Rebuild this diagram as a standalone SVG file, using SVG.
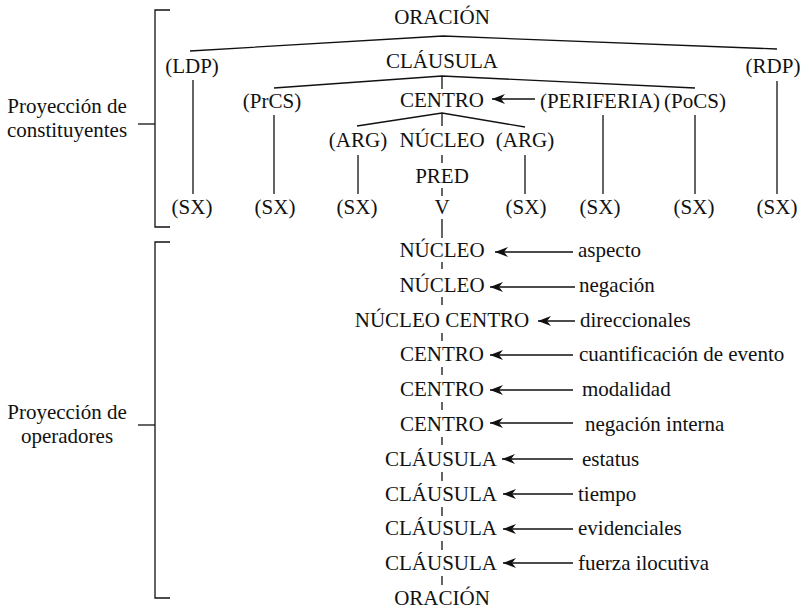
<svg xmlns="http://www.w3.org/2000/svg" width="809" height="610" viewBox="0 0 809 610">
<style>
text{font-family:'Liberation Serif',serif;font-size:21px;fill:#111}
.c{text-anchor:middle}
.l{text-anchor:start}
line,polyline{stroke:#111;stroke-width:1.3;fill:none}
.arr{marker-start:url(#ah)}
</style>
<defs>
<marker id="ah" markerUnits="userSpaceOnUse" markerWidth="16" markerHeight="12" refX="0" refY="0" viewBox="-1 -6 16 12" orient="auto" overflow="visible">
<path d="M0,0 L13,-5 L9,0 L13,5 Z" fill="#111"/>
</marker>
</defs>
<rect width="809" height="610" fill="#fff"/>

<g id="brackets">
<polyline points="170,10 155,10 155,227 170,227"/>
<line x1="138" y1="124" x2="155" y2="124"/>
<polyline points="170,242 155,242 155,598 170,598"/>
<line x1="138" y1="425" x2="155" y2="425"/>
</g>
<g id="label-constituyentes"><text class="c" x="67" y="113">Proyección de</text><text class="c" x="67" y="137">constituyentes</text></g>
<g id="label-operadores"><text class="c" x="67" y="419">Proyección de</text><text class="c" x="67" y="443">operadores</text></g>

<g id="connectors">
<polyline points="190,51 443,36 777,49"/>
<polyline points="274,88 442,76 695,88"/>
<line x1="442" y1="76" x2="442" y2="89"/>
<line x1="193" y1="80" x2="193" y2="194"/>
<line x1="777" y1="81" x2="777" y2="194"/>
<line x1="274" y1="115" x2="274" y2="194"/>
<line x1="603" y1="115" x2="603" y2="194"/>
<line x1="695" y1="115" x2="695" y2="194"/>
<line class="arr" x1="492" y1="99" x2="535" y2="99"/>
<polyline points="357,126 442,113 525,127"/>
<line x1="442" y1="113" x2="442" y2="126"/>
<line x1="358" y1="155" x2="358" y2="194"/>
<line x1="525" y1="155" x2="525" y2="194"/>
<line x1="442" y1="155" x2="442" y2="163"/>
<line x1="442" y1="188" x2="442" y2="196"/>
<line x1="442" y1="219" x2="442" y2="238"/>
<line x1="442" y1="262" x2="442" y2="269"/>
<line x1="442" y1="297" x2="442" y2="305"/>
<line x1="442" y1="333" x2="442" y2="341"/>
<line x1="442" y1="367" x2="442" y2="375"/>
<line x1="442" y1="402" x2="442" y2="410"/>
<line x1="442" y1="437" x2="442" y2="445"/>
<line x1="442" y1="472" x2="442" y2="481"/>
<line x1="442" y1="507" x2="442" y2="516"/>
<line x1="442" y1="541" x2="442" y2="550"/>
<line x1="442" y1="576" x2="442" y2="585"/>
<line class="arr" x1="495" y1="252" x2="573" y2="252"/>
<line class="arr" x1="490" y1="287" x2="575" y2="287"/>
<line class="arr" x1="538" y1="321" x2="575" y2="321"/>
<line class="arr" x1="490" y1="355" x2="573" y2="355"/>
<line class="arr" x1="490" y1="390" x2="573" y2="390"/>
<line class="arr" x1="490" y1="423" x2="573" y2="423"/>
<line class="arr" x1="502" y1="459" x2="573" y2="459"/>
<line class="arr" x1="503" y1="494" x2="573" y2="494"/>
<line class="arr" x1="503" y1="529" x2="573" y2="529"/>
<line class="arr" x1="503" y1="563" x2="573" y2="563"/>
</g>

<g id="oracion-top"><text class="c" x="442" y="24">ORACIÓN</text></g>
<g id="clausula-top"><text class="c" x="442" y="68">CLÁUSULA</text></g>
<g id="ldp"><text class="c" x="192" y="73">(LDP)</text></g>
<g id="rdp"><text class="c" x="773" y="73">(RDP)</text></g>
<g id="prcs"><text class="c" x="272" y="108">(PrCS)</text></g>
<g id="centro-top"><text class="c" x="442" y="107">CENTRO</text></g>
<g id="periferia"><text class="c" x="600" y="108">(PERIFERIA)</text></g>
<g id="pocs"><text class="c" x="695" y="108">(PoCS)</text></g>
<g id="arg1"><text class="c" x="358" y="147">(ARG)</text></g>
<g id="nucleo-top"><text class="c" x="442" y="147">NÚCLEO</text></g>
<g id="arg2"><text class="c" x="525" y="147">(ARG)</text></g>
<g id="pred"><text class="c" x="442" y="183">PRED</text></g>
<g id="v"><text class="c" x="442" y="214">V</text></g>
<g id="sx1"><text class="c" x="192" y="214">(SX)</text></g>
<g id="sx2"><text class="c" x="275" y="214">(SX)</text></g>
<g id="sx3"><text class="c" x="357" y="214">(SX)</text></g>
<g id="sx4"><text class="c" x="526" y="214">(SX)</text></g>
<g id="sx5"><text class="c" x="600" y="214">(SX)</text></g>
<g id="sx6"><text class="c" x="694" y="214">(SX)</text></g>
<g id="sx7"><text class="c" x="777" y="214">(SX)</text></g>

<g id="op1"><text class="c" x="442" y="257">NÚCLEO</text><text class="l" x="578" y="257">aspecto</text></g>
<g id="op2"><text class="c" x="442" y="292">NÚCLEO</text><text class="l" x="579" y="292">negación</text></g>
<g id="op3"><text class="c" x="442" y="327">NÚCLEO CENTRO</text><text class="l" x="580" y="327">direccionales</text></g>
<g id="op4"><text class="c" x="442" y="361">CENTRO</text><text class="l" x="579" y="361">cuantificación de evento</text></g>
<g id="op5"><text class="c" x="442" y="396">CENTRO</text><text class="l" x="582" y="396">modalidad</text></g>
<g id="op6"><text class="c" x="442" y="431">CENTRO</text><text class="l" x="585" y="431">negación interna</text></g>
<g id="op7"><text class="c" x="441" y="466">CLÁUSULA</text><text class="l" x="582" y="466">estatus</text></g>
<g id="op8"><text class="c" x="441" y="501">CLÁUSULA</text><text class="l" x="578" y="501">tiempo</text></g>
<g id="op9"><text class="c" x="441" y="535">CLÁUSULA</text><text class="l" x="578" y="535">evidenciales</text></g>
<g id="op10"><text class="c" x="441" y="570">CLÁUSULA</text><text class="l" x="578" y="570">fuerza ilocutiva</text></g>
<g id="oracion-bottom"><text class="c" x="442" y="605">ORACIÓN</text></g>
</svg>
